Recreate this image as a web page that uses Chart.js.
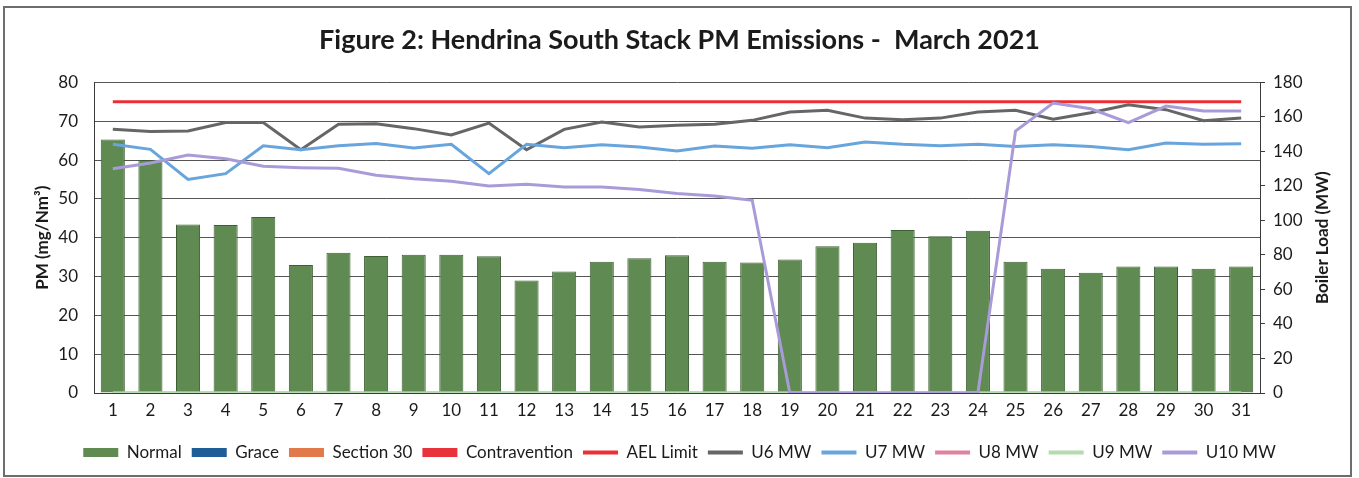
<!DOCTYPE html>
<html>
<head>
<meta charset="utf-8">
<script src="https://cdn.jsdelivr.net/npm/chart.js@4.4.1/dist/chart.umd.min.js"></script>
<style>
  html, body { margin: 0; padding: 0; background: #fff; }
  #wrap { position: relative; width: 1359px; height: 478px; }
  #frame { position: absolute; left: 3px; top: 6px; width: 1345px; height: 467px; border: 2px solid #6d6d6d; }
  #chart { position: absolute; left: 0; top: 0; }
</style>
</head>
<body>
<div id="wrap">
  <div id="frame"></div>
  <canvas id="chart" width="1359" height="478"></canvas>
</div>
<script>
const days = ['1','2','3','4','5','6','7','8','9','10','11','12','13','14','15','16',
  '17','18','19','20','21','22','23','24','25','26','27','28','29','30','31'];

// PM (mg/Nm3) per day
const normal = [65.3, 60.0, 43.4, 43.3, 45.3, 33.0, 36.1, 35.3, 35.6, 35.6, 35.2, 29.0, 31.3, 33.8, 34.7, 35.5,
  33.8, 33.6, 34.4, 37.8, 38.7, 42.0, 40.4, 41.8, 33.8, 32.0, 31.0, 32.6, 32.6, 32.0, 32.6];
const grace = [0,0,0,0,0,0,0,0,0,0,0,0,0,0,0,0,0,0,0,0,0,0,0,0,0,0,0,0,0,0,0];
const section30 = [0,0,0,0,0,0,0,0,0,0,0,0,0,0,0,0,0,0,0,0,0,0,0,0,0,0,0,0,0,0,0];
const contravention = [0,0,0,0,0,0,0,0,0,0,0,0,0,0,0,0,0,0,0,0,0,0,0,0,0,0,0,0,0,0,0];
const aelLimit = [75,75,75,75,75,75,75,75,75,75,75,75,75,75,75,75,75,75,75,75,75,75,75,75,75,75,75,75,75,75,75];

// Boiler load (MW) per unit
const u6 = [152.8, 151.6, 151.8, 156.8, 156.8, 141.0, 155.7, 156.0, 153.2, 149.5, 156.4, 141.0, 152.8, 157.0, 154.1, 155.1,
  155.7, 158.0, 162.8, 163.8, 159.3, 158.4, 159.3, 162.8, 163.8, 158.6, 162.4, 167.0, 164.2, 157.8, 159.3];
const u7 = [144.1, 141.2, 123.8, 127.1, 143.3, 141.0, 143.3, 144.6, 142.0, 144.1, 127.1, 144.1, 142.2, 143.9, 142.6, 140.2,
  143.1, 141.8, 143.9, 142.2, 145.4, 144.1, 143.3, 144.1, 142.9, 143.9, 142.9, 141.0, 144.9, 144.1, 144.5];
const u8 = [0,0,0,0,0,0,0,0,0,0,0,0,0,0,0,0,0,0,0,0,0,0,0,0,0,0,0,0,0,0,0];
const u9 = [0,0,0,0,0,0,0,0,0,0,0,0,0,0,0,0,0,0,0,0,0,0,0,0,0,0,0,0,0,0,0];
const u10 = [130.0, 133.3, 137.9, 135.8, 131.4, 130.6, 130.2, 126.2, 124.2, 122.7, 120.0, 121.0, 119.4, 119.4, 117.9, 115.6,
  114.2, 111.7, 0, 0, 0, 0, 0, 0, 151.8, 168.0, 164.7, 156.7, 166.3, 163.4, 163.4];

const FONT = 'Lato';
const TEXT = '#1b1b1b';

function barSet(label, data, color, border) {
  return { type: 'bar', label, data, backgroundColor: color, borderColor: border, borderWidth: border ? 1 : 0,
    yAxisID: 'y', grouped: false, barPercentage: 0.64, categoryPercentage: 1, order: 10 };
}
function lineSet(label, data, color, axis, order) {
  return { type: 'line', label, data, borderColor: color, backgroundColor: color, borderWidth: 3,
    pointRadius: 0, tension: 0, fill: false, yAxisID: axis, order };
}

// Excel-style axis titles, both reading bottom to top
const axisTitles = {
  id: 'axisTitles',
  afterDraw(chart) {
    const { ctx, chartArea } = chart;
    const cy = (chartArea.top + chartArea.bottom) / 2;
    ctx.save();
    ctx.font = `bold 17px ${FONT}`;
    ctx.fillStyle = TEXT;
    ctx.textAlign = 'center';
    ctx.textBaseline = 'middle';
    [[43, 'PM (mg/Nm³)'], [1323, 'Boiler Load (MW)']].forEach(([x, t]) => {
      ctx.save();
      ctx.translate(x, cy);
      ctx.rotate(-Math.PI / 2);
      ctx.fillText(t, 0, 0);
      ctx.restore();
    });
    ctx.restore();
  }
};

new Chart(document.getElementById('chart'), {
  data: {
    labels: days,
    datasets: [
      barSet('Normal', normal, '#5f8a51', '#3f5f36'),
      barSet('Grace', grace, '#1f5d97', null),
      barSet('Section 30', section30, '#e2794a', null),
      barSet('Contravention', contravention, '#e8333d', null),
      lineSet('AEL Limit', aelLimit, '#ec2f34', 'y', 6),
      lineSet('U6 MW', u6, '#666666', 'y1', 5),
      lineSet('U7 MW', u7, '#68a5dc', 'y1', 4),
      lineSet('U8 MW', u8, '#e0839e', 'y1', 3),
      lineSet('U9 MW', u9, '#b4dcae', 'y1', 2),
      lineSet('U10 MW', u10, '#a99bd8', 'y1', 1)
    ]
  },
  options: {
    responsive: false,
    devicePixelRatio: 1,
    animation: false,
    layout: { padding: { left: 0, right: 0, top: 0, bottom: 7 } },
    plugins: {
      title: {
        display: true,
        text: 'Figure 2: Hendrina South Stack PM Emissions -  March 2021',
        font: { family: FONT, size: 27, weight: 'bold' },
        color: TEXT,
        padding: { top: 24, bottom: 26 }
      },
      legend: {
        position: 'bottom',
        labels: {
          font: { family: FONT, size: 17 },
          color: TEXT,
          usePointStyle: true,
          pointStyleWidth: 35,
          boxHeight: 9,
          padding: 10,
          generateLabels(chart) {
            return chart.data.datasets.map((ds, i) => ({
              text: ds.label,
              datasetIndex: i,
              fillStyle: ds.type === 'bar' ? ds.backgroundColor : ds.borderColor,
              strokeStyle: ds.borderColor || ds.backgroundColor,
              lineWidth: ds.type === 'bar' ? 0 : 4,
              pointStyle: ds.type === 'bar' ? 'rect' : 'line',
              fontColor: TEXT,
              hidden: false
            }));
          }
        }
      },
      tooltip: { enabled: false }
    },
    scales: {
      x: {
        grid: { display: false, drawTicks: false },
        border: { display: true, color: '#3a3a3a', width: 1 },
        ticks: { font: { family: FONT, size: 17 }, color: TEXT, padding: 7, maxRotation: 0 },
        afterFit(s) { s.height = 41; }
      },
      y: {
        position: 'left',
        min: 0, max: 80,
        ticks: { stepSize: 10, font: { family: FONT, size: 17 }, color: TEXT, padding: 16 },
        grid: { color: '#555555', lineWidth: 1, drawTicks: false },
        border: { display: true, color: '#3a3a3a', width: 1 },
        afterFit(s) { s.width = 94; }
      },
      y1: {
        position: 'right',
        min: 0, max: 180,
        ticks: { stepSize: 20, font: { family: FONT, size: 17 }, color: TEXT, padding: 8 },
        grid: { drawOnChartArea: false, drawTicks: true, tickLength: 5, color: '#3a3a3a' },
        border: { display: true, color: '#3a3a3a', width: 1 },
        afterFit(s) { s.width = 99; }
      }
    }
  },
  plugins: [axisTitles]
});
</script>
</body>
</html>
